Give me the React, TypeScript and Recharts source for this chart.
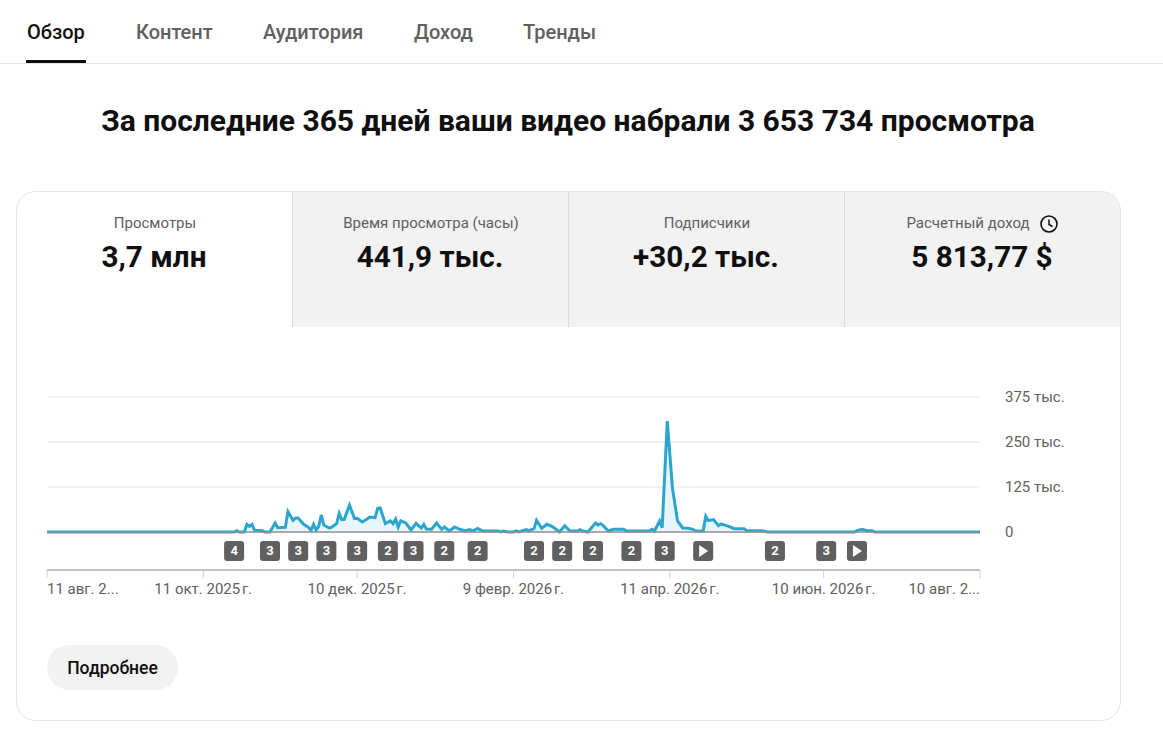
import React from 'react';
import { ComposedChart, Area, XAxis, YAxis, CartesianGrid, ReferenceLine, ReferenceDot } from 'recharts';

// days since 11 Aug 2025 and the daily views read at that day
const days = [
  0, 73, 74, 75, 77, 78, 79, 80, 81, 84, 85, 87, 89, 90, 93, 94, 96, 97, 98, 100,
  102, 103, 104, 105, 106, 107, 108, 110, 111, 113, 114, 115, 116, 118, 120, 121, 123, 125, 126, 128,
  129, 130, 132, 134, 135, 136, 137, 138, 140, 142, 144, 146, 147, 148, 150, 152, 154, 155, 157, 159,
  161, 163, 165, 166, 168, 170, 176, 177, 178, 180, 182, 183, 184, 187, 188, 190, 191, 193, 195, 197,
  199, 200, 202, 204, 207, 208, 209, 211, 214, 215, 216, 217, 219, 221, 225, 226, 235, 236, 237, 239,
  240, 242, 244, 246, 248, 250, 252, 253, 256, 257, 258, 260, 262, 263, 265, 266, 268, 272, 273, 279,
  281, 315, 316, 318, 320, 322, 323, 364,
];
const views = [
  0, 0, 3700, 0, 0, 21300, 15700, 21300, 4600, 3700, 0, 0, 25000, 12000, 13000, 56500, 32400, 38900, 38900, 22200,
  13000, 4600, 21300, 5600, 15700, 47200, 19400, 11100, 13000, 23100, 51900, 34300, 35200, 75000, 37000, 38000, 27800, 37000, 41700, 39800,
  65700, 66700, 23100, 30600, 23100, 36100, 13900, 31500, 25000, 5600, 24100, 11100, 21300, 8300, 7400, 25000, 7400, 13900, 2800, 13900,
  7400, 3700, 6500, 2800, 10200, 2800, 2800, 0, 2800, 0, 0, 2800, 0, 6500, 3700, 9300, 32400, 10200, 21300, 15700,
  5600, 0, 17600, 2800, 2800, 6500, 2800, 0, 25000, 19400, 23100, 17600, 2800, 7400, 7400, 2800, 2800, 7400, 2800, 30600,
  12000, 308000, 123000, 30600, 11100, 10200, 7400, 2800, 2800, 43500, 31500, 34300, 17600, 22200, 17600, 15700, 9300, 9300, 3700, 3700,
  0, 0, 3700, 7400, 3700, 3700, 0, 0,
];

const xTicks = [0, 61, 121, 182, 243, 303, 364];
const xLabels = [
  '11 авг. 2...',
  '11 окт. 2025\u202fг.',
  '10 дек. 2025\u202fг.',
  '9 февр. 2026\u202fг.',
  '11 апр. 2026\u202fг.',
  '10 июн. 2026\u202fг.',
  '10 авг. 2...',
];
const yTicks = [0, 125000, 250000, 375000];
const yLabels = ['0', '125 тыс.', '250 тыс.', '375 тыс.'];

const badgeDays = [73, 87, 98, 109, 121, 133, 143, 155, 168, 190, 201, 213, 228, 241, 256, 284, 304, 316];
const badgeLabels = ['4', '3', '3', '3', '3', '2', '3', '2', '2', '2', '2', '2', '2', '3', 'play', '2', '3', 'play'];

const navTabs = ['Обзор', 'Контент', 'Аудитория', 'Доход', 'Тренды'];
const navLefts = [27, 136, 263, 414, 523];
const metricTitles = ['Просмотры', 'Время просмотра (часы)', 'Подписчики', 'Расчетный доход'];
const metricValues = ['3,7 млн', '441,9 тыс.', '+30,2 тыс.', '5 813,77 $'];

const rows = days.map((day, i) => ({ day, views: views[i] }));

const font = 'Roboto, sans-serif';
const BADGE_Y = -52800;

function XTick({ x, y, payload }: any) {
  const i = xTicks.indexOf(payload.value);
  const anchor = i === 0 ? 'start' : i === xTicks.length - 1 ? 'end' : 'middle';
  return (
    <text x={x} y={y + 14} textAnchor={anchor} fontSize={15} fill="#606060" fontFamily={font}>
      {xLabels[i]}
    </text>
  );
}

function Badge({ cx, cy, label }: any) {
  return (
    <g>
      <rect x={cx - 10} y={cy - 10} width={20} height={20} rx={3} fill="#606060" />
      {label === 'play' ? (
        <polygon points={`${cx - 4},${cy - 6} ${cx + 5},${cy} ${cx - 4},${cy + 6}`} fill="#fff" />
      ) : (
        <text x={cx} y={cy + 4.5} textAnchor="middle" fontSize={13} fontWeight={700} fill="#fff" fontFamily={font}>
          {label}
        </text>
      )}
    </g>
  );
}

function Clock() {
  return (
    <svg width="20" height="20" viewBox="0 0 20 20" style={{ position: 'absolute', left: 1039, top: 214 }}>
      <circle cx="10" cy="10" r="8" fill="none" stroke="#0f0f0f" strokeWidth="1.6" />
      <path d="M10 5.5V10.5L13.5 12.5" fill="none" stroke="#0f0f0f" strokeWidth="1.5" />
    </svg>
  );
}

export default function App() {
  return (
    <div style={{ position: 'absolute', left: 0, top: 0, width: 1163, height: 741, overflow: 'hidden', background: '#fff', fontFamily: font }}>
      {navTabs.map((t, i) => (
        <div
          key={t}
          style={{
            position: 'absolute',
            left: navLefts[i],
            top: 20,
            fontSize: 20,
            lineHeight: '24px',
            fontWeight: 500,
            color: i === 0 ? '#0f0f0f' : '#606060',
          }}
        >
          {t}
        </div>
      ))}
      <div style={{ position: 'absolute', left: 26, top: 60, width: 60, height: 3, background: '#0f0f0f' }} />
      <div style={{ position: 'absolute', left: 0, top: 63, width: 1163, height: 1, background: '#e5e5e5' }} />

      <div
        style={{
          position: 'absolute',
          left: 0,
          width: 1136,
          top: 103,
          textAlign: 'center',
          fontSize: 30,
          lineHeight: '36px',
          fontWeight: 700,
          color: '#0f0f0f',
        }}
      >
        За последние 365 дней ваши видео набрали 3 653 734 просмотра
      </div>

      <div
        style={{
          position: 'absolute',
          left: 16,
          top: 191,
          width: 1103,
          height: 528,
          border: '1px solid #e5e5e5',
          borderRadius: 20,
          overflow: 'hidden',
        }}
      >
        <div style={{ position: 'absolute', left: 276, top: 0, width: 828, height: 135, background: '#f2f2f2' }} />
        {[275, 551, 827].map((l) => (
          <div key={l} style={{ position: 'absolute', left: l, top: 0, width: 1, height: 135, background: '#dcdcdc' }} />
        ))}
      </div>

      {metricTitles.map((t, i) => (
        <React.Fragment key={t}>
          <div
            style={{
              position: 'absolute',
              left: 17 + i * 276,
              width: 276 - (i === 3 ? 30 : 0),
              top: 214,
              textAlign: 'center',
              fontSize: 15,
              lineHeight: '18px',
              color: '#606060',
            }}
          >
            {t}
          </div>
          <div
            style={{
              position: 'absolute',
              left: 16 + i * 276,
              width: 276,
              top: 239,
              textAlign: 'center',
              fontSize: 29.7,
              lineHeight: '36px',
              fontWeight: 700,
              color: '#0f0f0f',
            }}
          >
            {metricValues[i]}
          </div>
        </React.Fragment>
      ))}
      <Clock />

      <div style={{ position: 'absolute', left: 0, top: 380 }}>
        <ComposedChart width={1163} height={230} data={rows} margin={{ top: 17, right: 83, bottom: 0, left: 47 }}>
          <CartesianGrid horizontal vertical={false} stroke="#eeeeee" strokeWidth={1.5} />
          <XAxis
            dataKey="day"
            type="number"
            domain={[0, 364]}
            ticks={xTicks}
            interval={0}
            height={40}
            stroke="#909090"
            tickLine={{ stroke: '#d0d0d0' }}
            tickSize={8}
            tick={<XTick />}
          />
          <YAxis
            orientation="right"
            type="number"
            domain={[-105600, 375000]}
            ticks={yTicks}
            width={100}
            axisLine={false}
            tickLine={false}
            tickSize={0}
            tickMargin={25}
            tick={{ fontSize: 15, fill: '#606060', fontFamily: font }}
            tickFormatter={(v: number) => yLabels[yTicks.indexOf(v)]}
          />
          <ReferenceLine y={0} stroke="#909090" strokeWidth={1.5} />
          <Area
            dataKey="views"
            type="linear"
            baseValue={0}
            stroke="#2ba5ce"
            strokeWidth={3}
            fill="#e8f5fa"
            fillOpacity={1}
            dot={false}
            activeDot={false}
            isAnimationActive={false}
          />
          {badgeDays.map((d, i) => (
            <ReferenceDot key={d} x={d} y={BADGE_Y} shape={(p: any) => <Badge {...p} label={badgeLabels[i]} />} />
          ))}
        </ComposedChart>
      </div>

      <div
        style={{
          position: 'absolute',
          left: 47,
          top: 645,
          width: 131,
          height: 45,
          borderRadius: 23,
          background: '#f2f2f2',
          textAlign: 'center',
          lineHeight: '46px',
          fontSize: 17.5,
          fontWeight: 500,
          color: '#0f0f0f',
        }}
      >
        Подробнее
      </div>
    </div>
  );
}
